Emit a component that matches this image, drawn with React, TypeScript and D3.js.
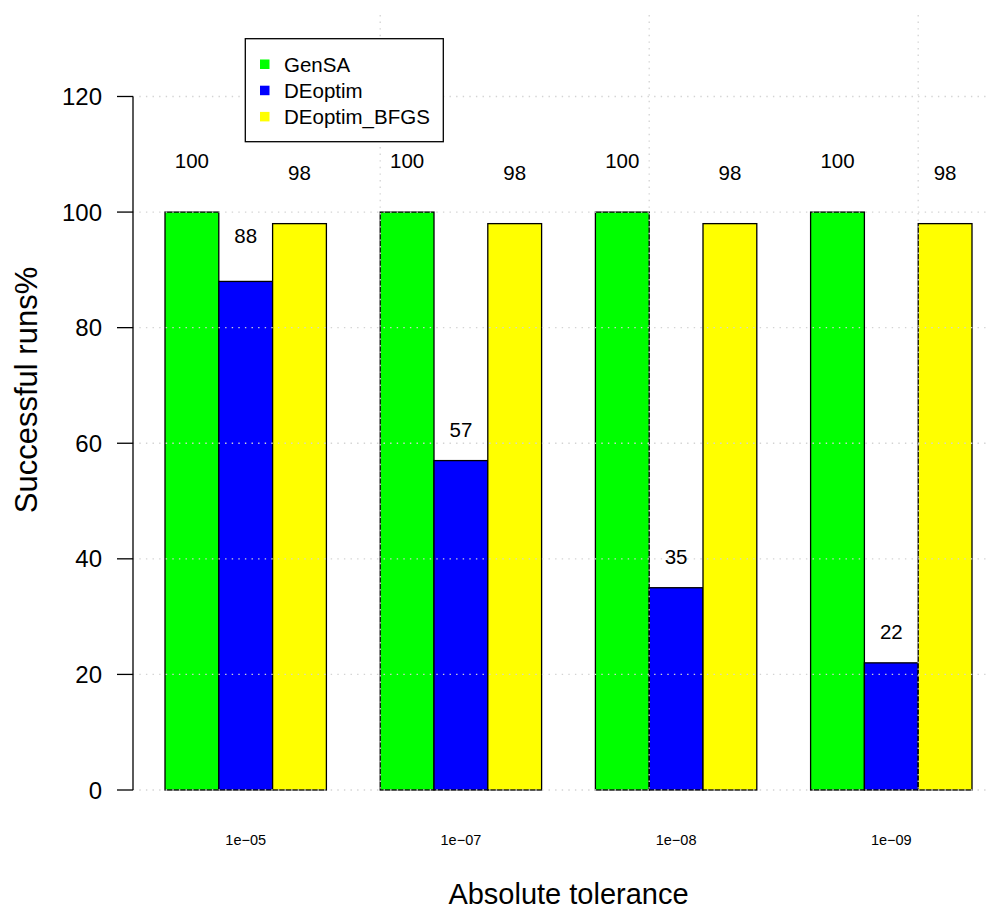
import React from "react";
import * as d3 from "d3";

const categories = ["1e\u221205", "1e\u221207", "1e\u221208", "1e\u221209"];
const seriesNames = ["GenSA", "DEoptim", "DEoptim_BFGS"];
const seriesColors = ["#00FF00", "#0000FF", "#FFFF00"];
const genSA = [100, 100, 100, 100];
const deoptim = [88, 57, 35, 22];
const deoptimBFGS = [98, 98, 98, 98];
const yTicks = [0, 20, 40, 60, 80, 100, 120];

const W = 989;
const H = 909;
const FONT = "'Liberation Sans', Arial, Helvetica, sans-serif";

export default function App() {
  const series = [genSA, deoptim, deoptimBFGS];

  const y = d3.scaleLinear().domain([0, 134.1]).range([790, 15]);
  const xGroup = d3
    .scaleBand<string>()
    .domain(categories)
    .range([165, 972])
    .paddingInner(0.25)
    .paddingOuter(0);
  const xInner = d3
    .scaleBand<string>()
    .domain(seriesNames)
    .range([0, xGroup.bandwidth()]);
  // unit scale (bar index units as in R barplot)
  const xUnit = d3.scaleLinear().domain([1, 16]).range([165, 972]);
  const xDom: [number, number] = [0.4, 16.6];
  const gridX = d3
    .scaleLinear()
    .domain(xDom)
    .ticks(4)
    .filter((t) => t > xDom[0] && t < xDom[1]);

  const plotLeft = xUnit(xDom[0]);
  const plotRight = xUnit(xDom[1]);
  const plotTop = y(134.1);
  const plotBottom = y(0);

  const labelPos = (v: number) => y(Math.max(v * 1.09, v + 5.35));

  const gridStyle = {
    stroke: "#D3D3D3",
    strokeWidth: 1.3,
    strokeDasharray: "1.4,5.2",
    fill: "none",
  };

  return (
    <svg
      width={W}
      height={H}
      style={{ position: "absolute", left: 0, top: 0, background: "#fff" }}
      fontFamily={FONT}
    >
      <rect x={0} y={0} width={W} height={H} fill="#fff" />
      {/* bars */}
      {categories.map((c, gi) => (
        <g key={c} transform={`translate(${xGroup(c)},0)`}>
          {series.map((s, si) => (
            <rect
              key={si}
              x={xInner(seriesNames[si])}
              y={y(s[gi])}
              width={xInner.bandwidth()}
              height={y(0) - y(s[gi])}
              fill={seriesColors[si]}
              stroke="#000"
              strokeWidth={1.3}
            />
          ))}
        </g>
      ))}
      {/* grid on top */}
      {yTicks.map((t) => (
        <line
          key={"gy" + t}
          x1={plotLeft}
          x2={plotRight}
          y1={y(t)}
          y2={y(t)}
          style={gridStyle}
        />
      ))}
      {gridX.map((t) => (
        <line
          key={"gx" + t}
          x1={xUnit(t)}
          x2={xUnit(t)}
          y1={plotTop}
          y2={plotBottom}
          style={gridStyle}
        />
      ))}
      {/* value labels */}
      {categories.map((c, gi) =>
        series.map((s, si) => (
          <text
            key={c + si}
            x={(xGroup(c) as number) + (xInner(seriesNames[si]) as number) + xInner.bandwidth() / 2}
            y={labelPos(s[gi])}
            textAnchor="middle"
            dominantBaseline="central"
            fontSize={20.5}
            fill="#000"
          >
            {s[gi]}
          </text>
        ))
      )}
      {/* y axis */}
      <line x1={133} x2={133} y1={y(120)} y2={y(0)} stroke="#000" strokeWidth={1.3} />
      {yTicks.map((t) => (
        <g key={"yt" + t}>
          <line x1={117} x2={133} y1={y(t)} y2={y(t)} stroke="#000" strokeWidth={1.3} />
          <text
            x={102}
            y={y(t)}
            textAnchor="end"
            dominantBaseline="central"
            fontSize={24}
            fill="#000"
          >
            {t}
          </text>
        </g>
      ))}
      {/* x labels */}
      {categories.map((c) => (
        <text
          key={"xl" + c}
          x={(xGroup(c) as number) + xGroup.bandwidth() / 2}
          y={840}
          textAnchor="middle"
          dominantBaseline="central"
          fontSize={14.5}
          fill="#000"
        >
          {c}
        </text>
      ))}
      {/* axis titles */}
      <text
        x={(plotLeft + plotRight) / 2}
        y={904}
        textAnchor="middle"
        fontSize={29}
        fill="#000"
      >
        Absolute tolerance
      </text>
      <text
        transform={`translate(37,390) rotate(-90)`}
        textAnchor="middle"
        fontSize={31}
        fill="#000"
      >
        Successful runs%
      </text>
      {/* legend */}
      <g>
        <rect x={245.3} y={38.7} width={198} height={103} fill="#fff" stroke="#000" strokeWidth={1.3} />
        {seriesNames.map((n, i) => (
          <g key={n} transform={`translate(0,${64.3 + i * 26.2})`}>
            <rect x={260} y={-4.8} width={9.5} height={9.5} fill={seriesColors[i]} />
            <text x={284} y={0} dominantBaseline="central" fontSize={20.5} fill="#000">
              {n}
            </text>
          </g>
        ))}
      </g>
    </svg>
  );
}
